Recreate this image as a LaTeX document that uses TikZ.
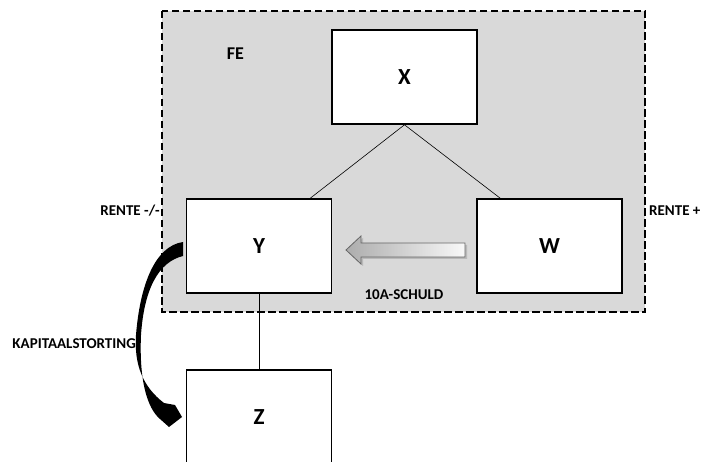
\documentclass[tikz,border=0pt]{standalone}
\usepackage{fontspec}
\setmainfont{Carlito}
\usetikzlibrary{calc}

\tikzset{
  entity/.style={draw, line width=1.6pt, fill=white, inner sep=0pt,
    minimum width=145pt, minimum height=94pt,
    font=\fontsize{23}{26}\selectfont\bfseries},
  tag/.style={inner sep=0pt, font=\fontsize{15}{18}\selectfont\bfseries},
  link/.style={line width=0.6pt}
}

\begin{document}
\begin{tikzpicture}[x=1pt,y=-1pt]
    \useasboundingbox (0,0) rectangle (701,462);

    % fiscal unity frame
    \draw[fill={rgb,255:red,217;green,217;blue,217}, line width=1.3pt,
          dash pattern=on 7.5pt off 3.5pt] (162,11) rectangle (645,312);
    \node[tag, font=\fontsize{18}{21}\selectfont\bfseries] (fe) at (235.5,54) {FE};

    % companies
    \node[entity] (x) at (404.5,77) {X};
    \node[entity] (y) at (259,246) {Y};
    \node[entity] (w) at (549.5,246) {W};
    \node[entity] (z) at (259,417) {Z};

    % shareholdings
    \draw[link] (x.south) -- ([xshift=-22pt]y.north east);
    \draw[link] (x.south) -- ([xshift=24pt]w.north west);
    \draw[link] (y.south) -- (z.north);

    % 10a debt arrow
    \fill[gray!55] (467,245) -- (363,245) -- (363,238) -- (348,252) -- (363,266)
      -- (363,259) -- (467,259) -- cycle;
    \path[left color=gray!65, right color=gray!5, draw=black!60, line width=0.8pt]
      (465,243) -- (361,243) -- (361,236) -- (346,250) -- (361,264)
      -- (361,257) -- (465,257) -- cycle;
    \node[tag] (debt) at (404,295) {10A-SCHULD};

    % capital contribution
    \fill (183,242) .. controls (155,246) and (140,285) .. (136,335)
      .. controls (134,365) and (143,387) .. (164,403)
      -- (175,405) -- (182,417) -- (169,427) -- (160,419)
      .. controls (147,408) and (139,380) .. (141,335)
      .. controls (144,290) and (158,262) .. (183,256) -- cycle;
    \node[tag, anchor=east] (capital) at (136,344) {KAPITAALSTORTING};

    % interest
    \node[tag, anchor=east] (rentmin) at (160,211) {RENTE -/-};
    \node[tag, anchor=west] (rentplus) at (649,211) {RENTE +};
\end{tikzpicture}
\end{document}
